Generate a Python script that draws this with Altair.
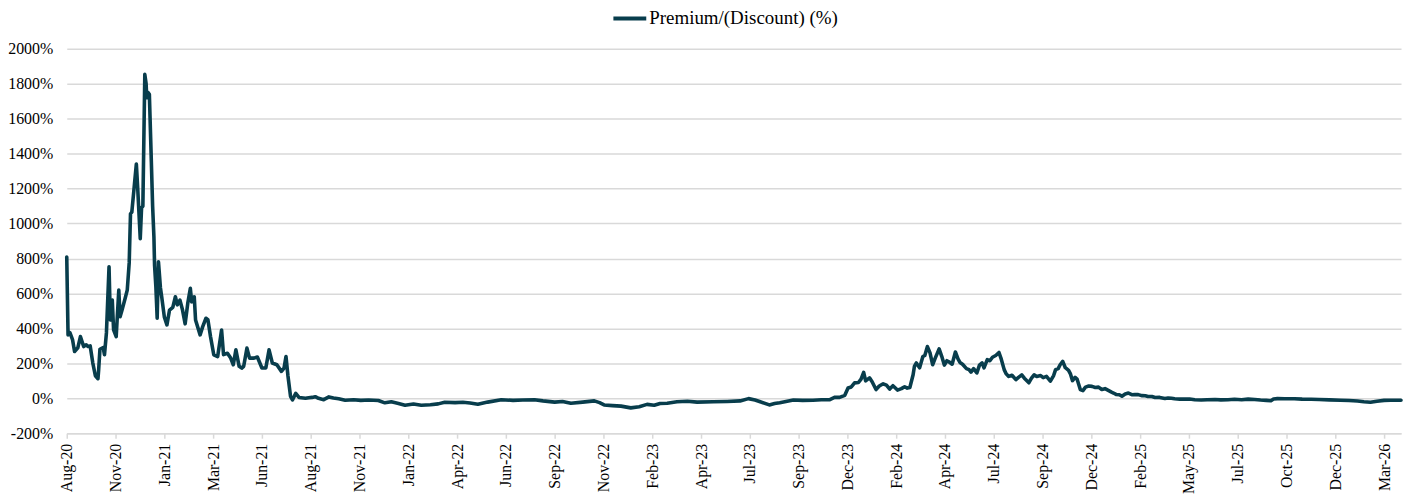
import altair as alt
import pandas as pd

SERIES_NAME = "Premium/(Discount) (%)"
LINE_COLOR = "#083D4C"
GRID_COLOR = "#D9D9D9"
FONT = "'Liberation Serif', 'Times New Roman', Times, serif"

dates = [
    # 2020
    "2020-08-18", "2020-08-20", "2020-08-23", "2020-08-27", "2020-08-30", "2020-09-04", "2020-09-08", "2020-09-13",
    "2020-09-17", "2020-09-20", "2020-09-23", "2020-09-27", "2020-10-01", "2020-10-05", "2020-10-06", "2020-10-08",
    "2020-10-13", "2020-10-15", "2020-10-18", "2020-10-22", "2020-10-24", "2020-10-27", "2020-10-29", "2020-11-02",
    "2020-11-06", "2020-11-08", "2020-11-11", "2020-11-16", "2020-11-19", "2020-11-22", "2020-11-24", "2020-11-26",
    "2020-11-29", "2020-12-03", "2020-12-05", "2020-12-09", "2020-12-11", "2020-12-13", "2020-12-16", "2020-12-18",
    "2020-12-19", "2020-12-21", "2020-12-23", "2020-12-26", "2020-12-28", "2020-12-30", "2020-12-31",
    # 2021
    "2021-01-02", "2021-01-04", "2021-01-06", "2021-01-09", "2021-01-11", "2021-01-15", "2021-01-19", "2021-01-23",
    "2021-01-28", "2021-02-01", "2021-02-04", "2021-02-08", "2021-02-12", "2021-02-16", "2021-02-20", "2021-02-24",
    "2021-02-26", "2021-03-02", "2021-03-04", "2021-03-11", "2021-03-15", "2021-03-20", "2021-03-23", "2021-03-27",
    "2021-04-01", "2021-04-07", "2021-04-13", "2021-04-16", "2021-04-22", "2021-04-27", "2021-05-01", "2021-05-05",
    "2021-05-10", "2021-05-14", "2021-05-17", "2021-05-22", "2021-05-26", "2021-06-02", "2021-06-07", "2021-06-14",
    "2021-06-20", "2021-06-25", "2021-06-30", "2021-07-07", "2021-07-14", "2021-07-18", "2021-07-21", "2021-07-24",
    "2021-07-28", "2021-07-31", "2021-08-05", "2021-08-10", "2021-08-20", "2021-08-25", "2021-08-30", "2021-09-04",
    "2021-09-09", "2021-09-17", "2021-09-25", "2021-10-02", "2021-10-10", "2021-10-20", "2021-11-02", "2021-11-13",
    "2021-11-25", "2021-12-10", "2021-12-20", "2021-12-30",
    # 2022
    "2022-01-10", "2022-01-20", "2022-02-02", "2022-02-14", "2022-02-28", "2022-03-12", "2022-03-22", "2022-04-07",
    "2022-04-19", "2022-04-30", "2022-05-12", "2022-05-27", "2022-06-17", "2022-07-05", "2022-07-20", "2022-08-07",
    "2022-08-20", "2022-09-07", "2022-09-19", "2022-10-02", "2022-10-20", "2022-11-07", "2022-11-15", "2022-11-22",
    "2022-12-05", "2022-12-18",
    # 2023
    "2023-01-02", "2023-01-15", "2023-01-27", "2023-02-07", "2023-02-16", "2023-02-27", "2023-03-14", "2023-03-30",
    "2023-04-14", "2023-05-09", "2023-05-30", "2023-06-19", "2023-07-02", "2023-07-12", "2023-07-20", "2023-08-03",
    "2023-08-11", "2023-08-19", "2023-09-09", "2023-09-23", "2023-10-09", "2023-10-22", "2023-11-04", "2023-11-12",
    "2023-11-19", "2023-11-27", "2023-12-02", "2023-12-07", "2023-12-12", "2023-12-18", "2023-12-22", "2023-12-26",
    "2023-12-29",
    # 2024
    "2024-01-04", "2024-01-08", "2024-01-14", "2024-01-19", "2024-01-25", "2024-01-30", "2024-02-04", "2024-02-09",
    "2024-02-16", "2024-02-22", "2024-02-27", "2024-03-02", "2024-03-06", "2024-03-11", "2024-03-13", "2024-03-16",
    "2024-03-21", "2024-03-26", "2024-03-29", "2024-04-02", "2024-04-06", "2024-04-10", "2024-04-14", "2024-04-20",
    "2024-04-24", "2024-04-28", "2024-05-02", "2024-05-05", "2024-05-10", "2024-05-15", "2024-05-19", "2024-05-22",
    "2024-05-26", "2024-06-01", "2024-06-05", "2024-06-08", "2024-06-12", "2024-06-17", "2024-06-21", "2024-06-25",
    "2024-06-28", "2024-07-03", "2024-07-07", "2024-07-11", "2024-07-16", "2024-07-21", "2024-07-24", "2024-07-29",
    "2024-08-01", "2024-08-05", "2024-08-10", "2024-08-16", "2024-08-20", "2024-08-25", "2024-08-29", "2024-09-05",
    "2024-09-09", "2024-09-13", "2024-09-17", "2024-09-23", "2024-09-27", "2024-10-02", "2024-10-08", "2024-10-13",
    "2024-10-16", "2024-10-20", "2024-10-23", "2024-10-27", "2024-10-31", "2024-11-05", "2024-11-08", "2024-11-11",
    "2024-11-15", "2024-11-18", "2024-11-23", "2024-11-27", "2024-12-01", "2024-12-06", "2024-12-11", "2024-12-16",
    "2024-12-21", "2024-12-26", "2024-12-31",
    # 2025
    "2025-01-05", "2025-01-10", "2025-01-13", "2025-01-17", "2025-01-22", "2025-01-26", "2025-01-31", "2025-02-05",
    "2025-02-11", "2025-02-15", "2025-02-20", "2025-02-26", "2025-03-03", "2025-03-07", "2025-03-13", "2025-03-18",
    "2025-03-25", "2025-04-02", "2025-04-07", "2025-04-12", "2025-04-17", "2025-04-25", "2025-04-30", "2025-05-10",
    "2025-05-18", "2025-05-28", "2025-06-06", "2025-06-18", "2025-06-27", "2025-07-08", "2025-07-18", "2025-07-29",
    "2025-08-08", "2025-08-18", "2025-08-27", "2025-09-05", "2025-09-12", "2025-09-16", "2025-09-22", "2025-10-03",
    "2025-10-18", "2025-10-30", "2025-11-13", "2025-11-25", "2025-12-11", "2025-12-28",
    # 2026
    "2026-01-10", "2026-01-23", "2026-02-02", "2026-02-12", "2026-02-22", "2026-03-05", "2026-03-15", "2026-03-31",
]

premium_pct = [
    # 2020
    809, 363, 375, 334, 268, 289, 353, 296,
    306, 296, 300, 203, 129, 112, 160, 280,
    290, 249, 374, 752, 448, 562, 391, 353,
    619, 467, 505, 575, 619, 775, 1056, 1065,
    1183, 1341, 1208, 914, 1090, 1100, 1854, 1800,
    1720, 1750, 1740, 1360, 1100, 923, 760,
    # 2021
    638, 458, 781, 633, 580, 466, 420, 505,
    520, 581, 535, 562, 505, 426, 543, 629,
    552, 581, 448, 363, 410, 458, 450, 353,
    249, 239, 391, 250, 258, 230, 192, 277,
    183, 173, 183, 287, 230, 230, 236, 173,
    173, 277, 202, 192, 154, 173, 239, 129,
    11, -9, 28, 5, 0, 3, 5, 9,
    0, -8, 8, 2, -3, -11, -8, -12,
    -10, -13, -26, -20,
    # 2022
    -30, -40, -33, -40, -37, -32, -23, -25,
    -23, -27, -34, -22, -8, -12, -10, -8,
    -15, -22, -18, -28, -22, -15, -25, -38,
    -42, -45,
    # 2023
    -55, -48, -35, -40, -30, -28, -20, -17,
    -22, -20, -18, -15, -2, -10, -20, -38,
    -30, -25, -10, -12, -11, -8, -8, 6,
    5, 17, 59, 65, 88, 90, 110, 148,
    100,
    # 2024
    117, 95, 50, 70, 83, 75, 53, 72,
    47, 55, 66, 58, 62, 135, 182, 202,
    174, 239, 245, 296, 260, 192, 230, 283,
    240, 190, 215, 209, 195, 265, 225, 205,
    195, 170, 164, 150, 170, 145, 190, 202,
    174, 221, 215, 235, 245, 262, 230, 164,
    140, 125, 132, 107, 120, 134, 115, 89,
    115, 134, 125, 130, 118, 125, 98, 130,
    164, 170, 192, 211, 175, 160, 138, 101,
    120, 110, 50, 44, 64, 70, 68, 62,
    64, 50, 55,
    # 2025
    45, 35, 30, 22, 20, 12, 25, 30,
    20, 22, 21, 15, 14, 10, 10, 4,
    5, -1, 2, 0, -3, -5, -5, -4,
    -8, -10, -8, -7, -9, -8, -6, -8,
    -5, -7, -10, -12, -14, -4, -2, -3,
    -3, -5, -6, -7, -9, -11,
    # 2026
    -13, -16, -20, -23, -17, -12, -11, -11,
]

tick_dates = [
    "2020-08-18", "2020-11-01", "2021-01-15", "2021-03-31", "2021-06-14", "2021-08-28", "2021-11-11",
    "2022-01-25", "2022-04-10", "2022-06-24", "2022-09-07", "2022-11-21", "2023-02-04", "2023-04-20",
    "2023-07-04", "2023-09-17", "2023-12-01", "2024-02-14", "2024-04-29", "2024-07-13", "2024-09-26",
    "2024-12-10", "2025-02-23", "2025-05-09", "2025-07-23", "2025-10-06", "2025-12-20", "2026-03-05",
]

y_ticks = [-200, 0, 200, 400, 600, 800, 1000, 1200, 1400, 1600, 1800, 2000]

assert len(dates) == len(premium_pct), (len(dates), len(premium_pct))

df = pd.DataFrame({"date": dates, "value": premium_pct, "series": SERIES_NAME})


def dt(s):
    y, m, d = (int(p) for p in s.split("-"))
    return alt.DateTime(year=y, month=m, date=d, utc=True)


x_enc = alt.X(
    "date:T",
    scale=alt.Scale(type="utc", domain=[dt(dates[0]), dt(dates[-1])]),
    axis=alt.Axis(
        values=[dt(s) for s in tick_dates],
        labelExpr="utcFormat(datum.value, '%b-%y')",
        labelAngle=270,
        labelAlign="right",
        labelBaseline="middle",
        labelFlush=False,
        labelOverlap=False,
        labelPadding=5,
        labelFont=FONT,
        labelFontSize=16,
        labelColor="#000000",
        title=None,
        grid=False,
        domainColor=GRID_COLOR,
        domainWidth=1.5,
        tickColor=GRID_COLOR,
        tickWidth=1.5,
        tickSize=5,
    ),
)

y_enc = alt.Y(
    "value:Q",
    scale=alt.Scale(domain=[-200, 2000], nice=False, zero=False),
    axis=alt.Axis(
        values=y_ticks,
        labelExpr="datum.value + '%'",
        labelFont=FONT,
        labelFontSize=16,
        labelColor="#000000",
        labelPadding=14,
        title=None,
        domain=False,
        ticks=False,
        grid=True,
        gridColor=GRID_COLOR,
        gridWidth=1.5,
    ),
)

color_enc = alt.Color(
    "series:N",
    scale=alt.Scale(domain=[SERIES_NAME], range=[LINE_COLOR]),
    legend=alt.Legend(
        title=None,
        orient="none",
        legendX=547,
        legendY=-49,
        symbolType="stroke",
        symbolSize=1089,
        symbolStrokeWidth=4,
        labelFont=FONT,
        labelFontSize=19,
        labelColor="#000000",
        labelOffset=1,
        labelLimit=500,
        padding=0,
    ),
)

chart = (
    alt.Chart(df)
    .mark_line(strokeWidth=3.6, strokeJoin="round", strokeCap="round")
    .encode(x=x_enc, y=y_enc, color=color_enc)
    .properties(
        width=1340,
        height=386,
        padding={"left": 59, "top": 40, "right": 4, "bottom": 60},
        autosize=alt.AutoSizeParams(type="none"),
    )
    .configure_view(stroke=None)
)

chart.save("out.html", embed_options={"renderer": "svg", "actions": False})
